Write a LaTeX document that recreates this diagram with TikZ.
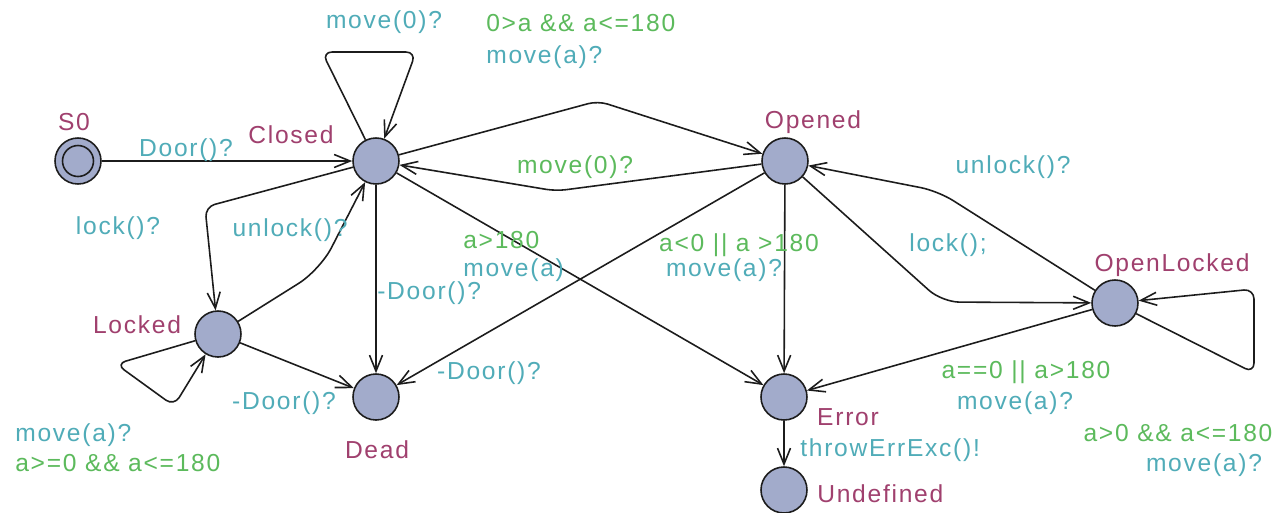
\documentclass[tikz,border=0pt]{standalone}
\usepackage{fontspec}
\setmainfont{Liberation Sans}[LetterSpace=7.0]
\usetikzlibrary{arrows.meta}
\definecolor{locname}{HTML}{A0406E}
\definecolor{sync}{HTML}{50ACB8}
\definecolor{guard}{HTML}{5CBA5C}
\definecolor{locfill}{HTML}{A2ABCB}
\definecolor{lineclr}{HTML}{1C1C1C}
\begin{document}
\begin{tikzpicture}[x=0.02cm,y=-0.02cm,
  font=\fontsize{14}{16}\selectfont,
  loc/.style={circle,draw=lineclr,line width=0.9pt,fill=locfill,minimum size=0.92cm,inner sep=0pt},
  lname/.style={text=locname,inner sep=0pt},
  slabel/.style={text=sync,inner sep=0pt},
  glabel/.style={text=guard,inner sep=0pt},
  edge/.style={draw=lineclr,line width=0.9pt,rounded corners=0.2cm,
    -{Straight Barb[length=3.2mm,width=2.6mm,line width=0.9pt]}}]
\useasboundingbox[fill=white] (0,0) rectangle (1276,512);

% locations
\node[loc] (S0) at (78,161) {};
\node[circle,draw=lineclr,line width=0.9pt,fill=locfill,minimum size=0.62cm,inner sep=0pt] (S0in) at (78,161) {};
\node[loc] (Closed) at (376,161) {};
\node[loc] (Opened) at (785,161) {};
\node[loc] (OpenLocked) at (1115,303) {};
\node[loc] (Locked) at (218,334) {};
\node[loc] (Dead) at (376,397) {};
\node[loc] (Error) at (784,397) {};
\node[loc] (Undefined) at (784,490) {};

% location names
\node[lname] (nS0) at (74,122) {S0};
\node[lname] (nClosed) at (291,135) {Closed};
\node[lname] (nOpened) at (813,122) {Opened};
\node[lname] (nOpenLocked) at (1172,265) {OpenLocked};
\node[lname] (nLocked) at (137,325) {Locked};
\node[lname] (nDead) at (377,450) {Dead};
\node[lname] (nError) at (848,417) {Error};
\node[lname,anchor=west] (nUndefined) at (817,494) {Undefined};

% transitions
\draw[edge] (S0) -- (Closed);
\draw[edge] (Closed) -- (322,52) -- (416,52) -- (Closed);
\draw[edge] (Closed) -- (598,101) -- (Opened);
\draw[edge] (Opened) -- (556,191) -- (Closed);
\draw[edge] (Closed) -- (205,207) -- (Locked);
\draw[edge,rounded corners=0.5cm] (Locked) -- (320,270) -- (Closed);
\draw[edge] (Locked) -- (116,364) -- (174,406) -- (Locked);
\draw[edge] (Locked) -- (Dead);
\draw[edge] (Closed) -- (Dead);
\draw[edge] (Closed) -- (Error);
\draw[edge] (Opened) -- (Dead);
\draw[edge] (Opened) -- (Error);
\draw[edge,rounded corners=0.35cm] (Opened) -- (942,302) -- (OpenLocked);
\draw[edge,rounded corners=0.35cm] (OpenLocked) -- (938,191) -- (Opened);
\draw[edge] (OpenLocked) -- (1254,373) -- (1254,289) -- (OpenLocked);
\draw[edge] (OpenLocked) -- (Error);
\draw[edge] (Error) -- (Undefined);

% guards and synchronisations
\node[slabel] (l1) at (186,150) {Door()?};
\node[slabel] (l2) at (384,22) {move(0)?};
\node[glabel,anchor=west] (l3) at (486,23) {0>a \&\& a<=180};
\node[slabel,anchor=west] (l4) at (486,57) {move(a)?};
\node[glabel] (l5) at (575,167) {move(0)?};
\node[slabel] (l6) at (118,228) {lock()?};
\node[slabel] (l7) at (290,230) {unlock()?};
\node[slabel,anchor=west] (l8) at (377,293) {-Door()?};
\node[glabel,anchor=west] (l9) at (463,240) {a>180};
\node[slabel,anchor=west] (l10) at (463,270) {move(a)};
\node[glabel] (l11) at (739,245) {a<0 || a >180};
\node[slabel] (l12) at (724,270) {move(a)?};
\node[slabel] (l13) at (489,373) {-Door()?};
\node[slabel] (l14) at (284,403) {-Door()?};
\node[slabel,anchor=west] (l15) at (15,435) {move(a)?};
\node[glabel,anchor=west] (l16) at (15,463) {a>=0 \&\& a<=180};
\node[slabel] (l17) at (1013,167) {unlock()?};
\node[slabel] (l18) at (948,245) {lock();};
\node[glabel] (l19) at (1026,372) {a==0 || a>180};
\node[slabel] (l20) at (1015,403) {move(a)?};
\node[glabel] (l21) at (1178,433) {a>0 \&\& a<=180};
\node[slabel] (l22) at (1204,465) {move(a)?};
\node[slabel,anchor=west] (l23) at (800,450) {throwErrExc()!};
\end{tikzpicture}
\end{document}
